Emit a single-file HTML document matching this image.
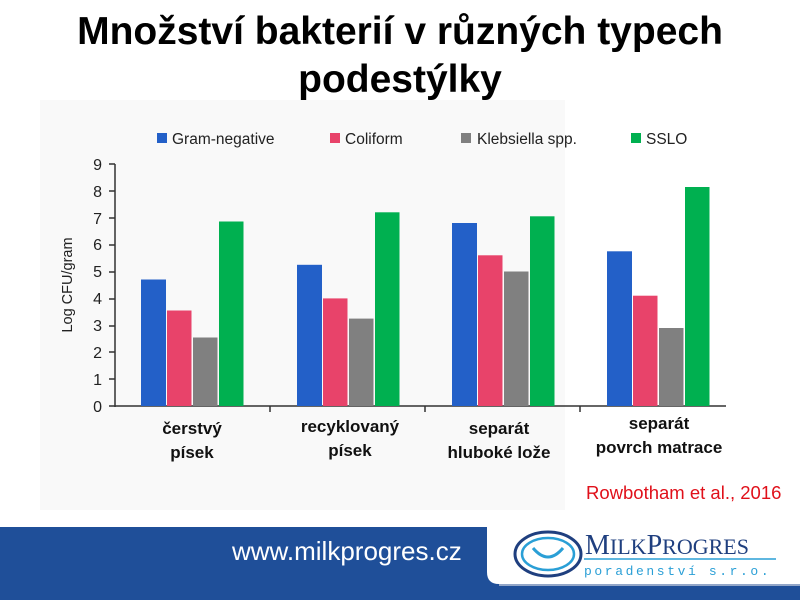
<!DOCTYPE html>
<html><head><meta charset="utf-8"><style>
body{margin:0;width:800px;height:600px;overflow:hidden;background:#fff;font-family:"Liberation Sans",sans-serif;position:relative}
.t{position:absolute;left:0;width:800px;text-align:center;font-weight:bold;font-size:39px;color:#000}
</style></head><body>
<div style="position:absolute;left:40px;top:100px;width:525px;height:410px;background:#f9f9f9"></div>
<div class="t" style="top:10px">Množství bakterií v různých typech</div>
<div class="t" style="top:58px">podestýlky</div>
<svg width="800" height="600" style="position:absolute;left:0;top:0" font-family="Liberation Sans, DejaVu Sans, sans-serif">
<g font-size="15.5" fill="#222">
<rect x="157" y="133" width="10" height="10" fill="#2360c8"/><text x="172" y="144">Gram-negative</text>
<rect x="330" y="133" width="10" height="10" fill="#e8436a"/><text x="345" y="144">Coliform</text>
<rect x="461" y="133" width="10" height="10" fill="#808080"/><text x="477" y="144">Klebsiella spp.</text>
<rect x="631" y="133" width="10" height="10" fill="#00b050"/><text x="646" y="144">SSLO</text>
</g>
<g font-size="16" fill="#222" text-anchor="end">
<text x="102" y="412">0</text><text x="102" y="385">1</text><text x="102" y="358">2</text><text x="102" y="331">3</text><text x="102" y="304">4</text><text x="102" y="277">5</text><text x="102" y="250">6</text><text x="102" y="224">7</text><text x="102" y="197">8</text><text x="102" y="170">9</text>
</g>
<text transform="translate(72,285) rotate(-90)" font-size="14.5" text-anchor="middle" fill="#222">Log CFU/gram</text>
<g stroke="#333" stroke-width="1.5">
<line x1="115" y1="164" x2="115" y2="407"/>
<line x1="109" y1="406" x2="726" y2="406"/>
<line x1="109" y1="164" x2="115" y2="164"/><line x1="109" y1="191" x2="115" y2="191"/><line x1="109" y1="218" x2="115" y2="218"/><line x1="109" y1="245" x2="115" y2="245"/><line x1="109" y1="272" x2="115" y2="272"/><line x1="109" y1="299" x2="115" y2="299"/><line x1="109" y1="326" x2="115" y2="326"/><line x1="109" y1="352" x2="115" y2="352"/><line x1="109" y1="379" x2="115" y2="379"/>
<line x1="270" y1="406" x2="270" y2="412"/><line x1="425" y1="406" x2="425" y2="412"/><line x1="580" y1="406" x2="580" y2="412"/>
</g>
<g>
<rect x="141" y="279.5" width="25" height="126.5" fill="#2360c8"/>
<rect x="167" y="310.5" width="24.5" height="95.5" fill="#e8436a"/>
<rect x="193" y="337.5" width="24.5" height="68.5" fill="#808080"/>
<rect x="219" y="221.5" width="24.5" height="184.5" fill="#00b050"/>
<rect x="297" y="264.8" width="25" height="141.2" fill="#2360c8"/>
<rect x="323" y="298.4" width="24.5" height="107.6" fill="#e8436a"/>
<rect x="349" y="318.6" width="24.5" height="87.4" fill="#808080"/>
<rect x="375" y="212.3" width="24.5" height="193.7" fill="#00b050"/>
<rect x="452" y="223" width="25" height="183" fill="#2360c8"/>
<rect x="478" y="255.3" width="24.5" height="150.7" fill="#e8436a"/>
<rect x="504" y="271.5" width="24.5" height="134.5" fill="#808080"/>
<rect x="530" y="216.3" width="24.5" height="189.7" fill="#00b050"/>
<rect x="607" y="251.3" width="25" height="154.7" fill="#2360c8"/>
<rect x="633" y="295.7" width="24.5" height="110.3" fill="#e8436a"/>
<rect x="659" y="328" width="24.5" height="78" fill="#808080"/>
<rect x="685" y="187" width="24.5" height="219" fill="#00b050"/>
</g>
<g font-size="17" font-weight="bold" fill="#111" text-anchor="middle">
<text x="192" y="434">čerstvý</text><text x="192" y="458">písek</text>
<text x="350" y="432">recyklovaný</text><text x="350" y="456">písek</text>
<text x="499" y="434">separát</text><text x="499" y="458">hluboké lože</text>
<text x="659" y="429">separát</text><text x="659" y="453">povrch matrace</text>
</g>
<text x="586" y="499" font-size="18.5" fill="#e0101a">Rowbotham et al., 2016</text>
<rect x="0" y="527" width="800" height="73" fill="#1f4f99"/>
<path d="M487 527 H800 V584 H499 Q487 584 487 572 Z" fill="#fff"/>
<line x1="499" y1="585" x2="800" y2="585" stroke="#b8c4d8" stroke-width="1.5"/>
<text x="232" y="560" font-size="26" fill="#fff">www.milkprogres.cz</text>
<ellipse cx="548" cy="554" rx="33" ry="22" fill="none" stroke="#1f3f7f" stroke-width="3"/>
<ellipse cx="548" cy="554" rx="26" ry="16" fill="none" stroke="#2a9fd6" stroke-width="2.5"/>
<path d="M533 548 Q548 566 563 548" fill="none" stroke="#2a9fd6" stroke-width="3"/>
<text x="585" y="554" font-size="28" fill="#1f3f7f" font-family="Liberation Serif, serif">M<tspan font-size="22">ILK</tspan>P<tspan font-size="22">ROGRES</tspan></text>
<line x1="584" y1="559" x2="776" y2="559" stroke="#2a9fd6" stroke-width="1.5"/>
<text x="584" y="575" font-size="13" fill="#2a9fd6" letter-spacing="2.6" font-family="Liberation Mono, monospace">poradenství s.r.o.</text>
</svg>
</body></html>
